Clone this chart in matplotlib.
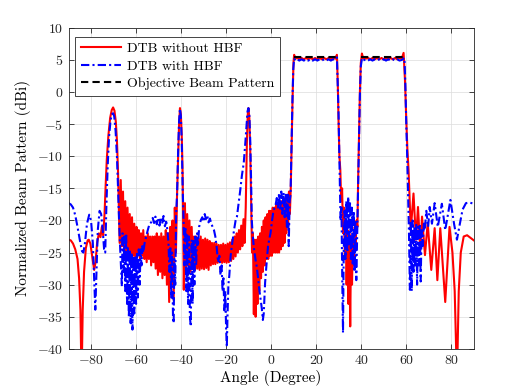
import numpy as np
import matplotlib
matplotlib.use("Agg")
import matplotlib.pyplot as plt

plt.rcParams['font.family'] = ['cmr10', 'DejaVu Serif']
plt.rcParams['mathtext.fontset'] = 'cm'
plt.rcParams['axes.unicode_minus'] = False
plt.rcParams['axes.formatter.use_mathtext'] = True

# ---------------- data ----------------
red_angle = [
    -90, -89, -88, -87, -86, -85.3, -84.7, -84.2, -83.7, -83.1, -82.3, -81.5, -81, -80.3, -79.5, -78.6,
    -78, -77.3, -76.5, -75.8, -75.2, -74.6, -74.0,
    -73.5, -73, -72.3, -71.5, -70.8, -70.2, -69.6, -69, -68.5, -68, -67.6, -67.3,
    -66.8, -66.3, -65.8, -65.3, -64.8, -64.3, -63.8, -63.3, -62.8, -62.3, -61.8, -61.3, -60.8, -60.3,
    -59.8, -59.3, -58.8, -58.3, -57.8, -57.3, -56.8, -56.3, -55.8, -55.3, -54.8, -54.3, -53.8, -53.3,
    -52.8, -52.3, -51.8, -51.3, -50.8, -50.3, -49.8, -49.3, -48.8, -48.3, -47.8, -47.3, -46.8, -46.3,
    -45.8, -45.3, -44.8, -44.3, -43.8, -43.3, -42.8, -42.3, -41.8,
    -41.3, -40.9, -40.5, -40.1, -39.7, -39.3, -38.8,
    -38.3, -37.8, -37.3, -36.8, -36.3, -35.8, -35.3, -34.8, -34.3, -33.8, -33.3, -32.8, -32.3, -31.8,
    -31.3, -30.8, -30.3, -29.8, -29.3, -28.8, -28.3, -27.8, -27.3, -26.8, -26.3, -25.8, -25.3, -24.8,
    -24.3, -23.8, -23.3, -22.8, -22.3, -21.8, -21.3, -20.8, -20.3, -19.8, -19.3, -18.8, -18.3, -17.8,
    -17.3, -16.8, -16.3, -15.8, -15.3, -14.8, -14.3, -13.8, -13.3, -12.8, -12.3, -11.8, -11.3,
    -10.8, -10.4, -10.1, -9.7, -9.3, -8.9, -8.5,
    -8.1, -7.7, -7.3, -6.9, -6.5, -6.1, -5.7, -5.3, -4.9, -4.5, -4.1, -3.7, -3.3, -2.9, -2.5, -2.1,
    -1.7, -1.3, -0.9, -0.5, -0.1, 0.3, 0.7, 1.1, 1.5, 1.9, 2.3, 2.7, 3.1, 3.5, 3.9, 4.3, 4.7, 5.1,
    5.5, 5.9, 6.3, 6.7, 7.1, 7.5, 7.9, 8.3, 8.7, 9.1, 9.5, 9.9,
    10.2, 10.7, 11.5, 12.5, 13.5, 14.5, 15.5, 16.5, 17.5, 18.5, 19.5, 20.5, 21.5, 22.5, 23.5, 24.5,
    25.5, 26.5, 27.5, 28.5, 29.2, 29.6, 29.9, 30.3,
    30.7, 31.1, 31.5, 31.9, 32.3, 32.7, 33.1, 33.5, 33.9, 34.3, 34.7, 35.1, 35.5, 35.9, 36.3, 36.7,
    37.1, 37.5, 37.9, 38.3, 38.6, 39.0, 39.4, 39.8,
    40.3, 40.8, 42, 43, 44, 45, 46, 47, 48, 49, 50, 51, 52, 53, 54, 55, 56, 57, 58, 58.8,
    59.4, 60.0, 60.5, 61.0, 62.0, 63.2, 64.3, 65.2, 66.2, 67.0, 68.3, 69.5, 71.1, 72.6, 73.8, 75.1,
    77.3, 79.2, 80.5, 81.5, 82.5, 83.3, 84.2, 85.5, 87, 88.5, 90,
]
red_db = [
    -23.0, -23.1, -23.6, -24.5, -26.0, -29.0, -34.0, -45.0, -34.0, -28.0, -24.3, -23.1, -23.0, -23.6, -25.5, -27.7,
    -26.5, -23.5, -22.0, -22.6, -21.0, -22.3, -19.0,
    -14.5, -10.5, -6.8, -4.0, -2.8, -2.4, -2.9, -4.6, -7.5, -12.5, -19.0, -23.5,
    -13.7, -24.0, -15.5, -25.0, -17.0, -25.5, -18.0, -25.0, -19.0, -26.0, -19.5, -25.5, -20.5, -26.0,
    -21.0, -25.0, -21.5, -26.0, -22.0, -25.5, -21.5, -26.0, -22.5, -26.5, -22.0, -26.0, -22.5, -27.0,
    -22.5, -26.5, -22.5, -27.5, -22.0, -28.5, -22.5, -28.0, -22.0, -29.0, -22.5, -28.5, -21.5, -30.0,
    -22.0, -32.7, -21.0, -30.0, -20.0, -32.4, -18.0, -25.0, -16.0,
    -10.0, -5.0, -2.5, -3.5, -7.0, -13.0, -30.8,
    -17.3, -28.0, -19.0, -27.0, -20.0, -28.0, -21.0, -27.5, -22.5, -27.7, -22.5, -27.5, -22.8, -27.7,
    -22.5, -27.5, -23.0, -27.6, -22.8, -27.4, -23.0, -27.7, -23.2, -27.0, -23.5, -26.8, -23.5, -26.8,
    -23.6, -26.6, -23.8, -26.5, -23.8, -26.6, -23.6, -26.5, -23.8, -26.6, -23.6, -26.5, -23.4, -26.3,
    -23.0, -26.0, -22.5, -25.6, -22.0, -25.0, -21.5, -24.5, -20.8, -24.0, -19.8, -23.5, -18.0,
    -8.0, -3.5, -2.5, -4.0, -9.0, -17.0, -25.0,
    -22.0, -34.6, -23.0, -35.0, -23.0, -33.0, -22.5, -31.0, -22.0, -29.0, -21.0, -28.0, -20.0, -27.0, -19.5, -26.0,
    -19.0, -26.0, -18.5, -25.5, -18.5, -25.5, -18.0, -25.0, -18.0, -25.0, -17.5, -25.0, -17.5, -25.0, -17.0, -24.5, -17.0, -24.0,
    -16.5, -23.5, -16.5, -22.0, -16.0, -21.0, -15.5, -19.0, -15.0, -8.0, -1.0, 4.5,
    5.8, 5.2, 5.3, 5.1, 5.3, 5.1, 5.3, 5.1, 5.3, 5.1, 5.3, 5.1, 5.3, 5.1, 5.3, 5.1,
    5.3, 5.1, 5.3, 5.2, 5.8, 1.0, -4.3, -10.0,
    -12.1, -17.0, -15.0, -22.0, -18.0, -26.0, -20.5, -30.0, -21.5, -33.0, -22.0, -36.5, -22.5, -30.0, -22.0, -27.0,
    -21.0, -24.0, -20.0, -21.0, -14.0, -7.0, 0.0, 4.5,
    6.0, 5.3, 5.2, 5.3, 5.1, 5.3, 5.1, 5.3, 5.1, 5.3, 5.1, 5.3, 5.1, 5.3, 5.1, 5.3, 5.1, 5.3, 5.2, 6.1,
    2.0, -4.3, -9.0, -12.1, -21.5, -15.8, -23.0, -17.9, -24.6, -19.4, -25.4, -20.4, -27.7, -21.2, -29.3, -21.2,
    -32.7, -21.0, -25.0, -31.0, -45.0, -31.0, -25.0, -22.5, -22.3, -22.7, -23.1,
]

blue_angle = [
    -90, -89, -88, -87, -86, -85, -84, -83.4, -82.7, -81.8, -80.8, -80, -79.2, -78.6, -78.1, -77.6,
    -77, -76.2, -75.5, -74.8, -74.2, -73.7,
    -73.2, -72.6, -72, -71.3, -70.6, -70.2, -69.7, -69.1, -68.5, -68, -67.6, -67.1, -66.6, -66.3,
    -66.0, -65.6, -65.2, -64.8, -64.4, -64.0, -63.6, -63.2, -62.8, -62.4, -62.0, -61.6, -61.2, -60.8,
    -60.4, -60.0, -59.6, -59.2, -58.8, -58.4, -58.0, -57.6, -57.2, -56.8, -56.2, -55.5, -54.8, -54.0,
    -53.3, -52.6, -52.0, -51.4, -50.8, -50.2, -49.6, -49.0, -48.4, -47.8, -47.2, -46.6, -46.1, -45.6,
    -45.2, -44.8, -44.4, -44.0, -43.6, -43.3, -43.0, -42.6, -42.2, -41.8,
    -41.3, -40.9, -40.5, -40.1, -39.7, -39.3, -38.9,
    -38.5, -38.1, -37.7, -37.3, -36.9, -36.5, -36.1, -35.7, -35.3, -34.9, -34.5, -34.1, -33.7, -33.3,
    -32.9, -32.5, -32.0, -31.3, -30.6, -30.0, -29.5, -29.0, -28.4, -27.8, -27.2, -26.6, -26.0, -25.4,
    -24.8, -24.2, -23.6, -23.0, -22.5, -22.0, -21.6, -21.2, -20.8, -20.4, -20.0, -19.7, -19.4, -19.0,
    -18.6, -18.0, -17.4, -16.5, -15.8, -15.2, -14.5, -13.7, -13.0, -12.2, -11.5,
    -10.9, -10.5, -10.1, -9.7, -9.3, -8.9, -8.6,
    -8.2, -7.6, -7.0, -6.4, -5.8, -5.2, -4.6, -4.1, -3.7, -3.3, -2.7, -2.0, -1.4, -0.8, -0.3, 0.4,
    1.0, 2.0, 2.5, 3.0, 3.5, 4.0, 4.5, 5.0, 5.5, 6.0, 6.5, 7.0, 7.4, 7.8, 8.2, 8.6,
    9.0, 9.4, 9.8,
    10.2, 10.8, 11.5, 12.5, 13.5, 14.5, 15.5, 16.5, 17.5, 18.5, 19.5, 20.5, 21.5, 22.5, 23.5, 24.5,
    25.5, 26.5, 27.5, 28.5, 29.2, 29.6, 29.9, 30.4,
    30.8, 31.2, 31.6, 31.9, 32.2, 32.6, 33.0, 33.4, 33.8, 34.2, 34.6, 35.0, 35.4, 35.8, 36.2, 36.6,
    37.0, 37.4, 37.8, 38.2, 38.6, 39.0, 39.4, 39.8,
    40.3, 40.8, 42, 43, 44, 45, 46, 47, 48, 49, 50, 51, 52, 53, 54, 55, 56, 57, 58, 59.2,
    59.6, 60.0, 60.4, 60.8, 61.2, 61.6, 62.0, 62.4, 62.8, 63.2, 63.6, 64.0, 64.4, 64.8, 65.2, 65.6,
    66.0, 66.4, 66.8, 67.3, 67.8, 68.2, 68.9, 69.7, 70.4, 71.4, 72.6, 74.0, 75.8, 77.3, 79.6, 81.2,
    82.5, 83.8, 85.0, 86.5, 88.0, 90,
]
blue_db = [
    -17.3, -17.5, -18.0, -19.2, -21.0, -23.0, -24.8, -25.0, -23.5, -20.5, -19.1, -20.0, -23.5, -29.0, -33.9, -28.0,
    -21.5, -18.5, -19.0, -21.5, -24.5, -25.0,
    -18.0, -11.5, -7.0, -4.3, -3.4, -3.3, -3.8, -6.0, -10.0, -15.0, -19.5, -24.0, -28.0, -30.3,
    -22.0, -28.0, -22.5, -31.0, -22.0, -33.0, -24.0, -35.0, -24.5, -36.0, -25.0, -37.0, -25.5, -34.5,
    -25.5, -33.0, -25.0, -32.0, -24.5, -30.0, -24.5, -27.0, -24.0, -25.0, -23.5, -22.5, -21.5, -20.5,
    -20.3, -19.6, -20.4, -19.4, -20.6, -19.6, -20.8, -19.5, -20.5, -19.3, -20.9, -20.2, -21.5, -23.5,
    -28.0, -24.0, -32.0, -25.0, -35.0, -36.0, -26.0, -30.0, -19.0, -16.0,
    -9.0, -4.5, -2.6, -3.8, -8.0, -15.0, -20.0,
    -27.0, -21.0, -31.0, -22.0, -33.0, -22.5, -35.0, -36.5, -23.0, -33.0, -23.0, -30.0, -22.5, -27.0,
    -22.0, -24.0, -21.0, -20.0, -19.5, -20.2, -19.0, -19.8, -19.2, -20.3, -19.7, -20.5, -21.0, -21.5,
    -22.5, -24.2, -26.5, -25.5, -28.5, -27.0, -31.0, -29.0, -34.0, -31.0, -37.0, -39.7, -35.0, -30.0,
    -28.6, -25.5, -23.8, -21.5, -20.0, -19.4, -17.5, -15.2, -13.0, -11.1, -8.0,
    -5.0, -3.0, -2.5, -3.5, -7.5, -14.0, -20.0,
    -22.3, -24.5, -26.0, -27.2, -29.0, -31.0, -32.5, -33.9, -35.5, -34.5, -29.7, -26.5, -24.0, -22.8, -22.0, -20.0,
    -18.5, -17.5, -16.5, -18.0, -15.8, -18.5, -15.5, -19.0, -15.7, -19.5, -16.0, -21.0, -16.0, -24.0, -17.0, -16.0,
    -9.0, -2.0, 3.5,
    5.2, 4.9, 5.1, 4.9, 5.1, 4.9, 5.1, 4.9, 5.1, 4.9, 5.1, 4.9, 5.1, 4.9, 5.1, 4.9,
    5.1, 4.9, 5.1, 5.0, 5.4, 0.5, -3.0, -12.0,
    -20.0, -18.0, -30.0, -37.5, -25.0, -18.5, -26.0, -17.0, -25.0, -16.3, -24.0, -17.0, -26.0, -18.0, -27.0, -18.5,
    -28.0, -20.0, -29.3, -22.0, -15.0, -7.0, -0.5, 4.0,
    5.2, 4.9, 5.1, 4.9, 5.1, 4.9, 5.1, 4.9, 5.1, 4.9, 5.1, 4.9, 5.1, 4.9, 5.1, 4.9, 5.1, 4.9, 5.0, 5.3,
    1.0, -5.0, -10.0, -16.0, -22.0, -30.8, -20.0, -31.0, -20.0, -28.0, -21.0, -27.0, -20.5, -30.0, -21.0, -27.0,
    -20.5, -29.5, -21.5, -24.0, -20.5, -21.5, -18.5, -21.0, -17.9, -20.5, -17.3, -21.0, -17.4, -21.5, -16.8, -20.5,
    -23.0, -20.5, -18.3, -17.3, -17.2, -17.4,
]

obj_angle = [10, 30, np.nan, 40, 60]
obj_db = [5.5, 5.5, np.nan, 5.5, 5.5]

labels = ['DTB without HBF', 'DTB with HBF', 'Objective Beam Pattern']
x_ticks = [-80, -60, -40, -20, 0, 20, 40, 60, 80]
y_ticks = [-40, -35, -30, -25, -20, -15, -10, -5, 0, 5, 10]

# ---------------- figure ----------------
fig = plt.figure(figsize=(5.23, 3.92), dpi=100)
ax = fig.add_axes([0.131, 0.110, 0.775, 0.819])

ax.plot(red_angle, red_db, color='#ff0000', lw=1.5, ls='-', label=labels[0])
ax.plot(blue_angle, blue_db, color='#0000ff', lw=1.5, ls=(0, (4, 1.5, 1, 1.5)), label=labels[1])
ax.plot(obj_angle, obj_db, color='black', lw=1.5, ls=(0, (3.5, 2)), label=labels[2])

ax.set_xlim(-90, 90)
ax.set_ylim(-40, 10)
ax.set_xticks(x_ticks)
ax.set_yticks(y_ticks)
ax.tick_params(direction='in', top=True, right=True, length=3.5, width=0.6,
               labelsize=10, colors='#262626', pad=4)
for sp in ax.spines.values():
    sp.set_color('#262626')
    sp.set_linewidth(0.6)
ax.grid(True, color='#dcdcdc', lw=0.5)
ax.set_axisbelow(True)

ax.set_xlabel('Angle (Degree)', fontsize=11, labelpad=2)
ax.set_ylabel('Normalized Beam Pattern (dBi)', fontsize=11, labelpad=4)

leg = ax.legend(loc='upper left', bbox_to_anchor=(0.016, 0.972), fontsize=10,
                frameon=True, fancybox=False, framealpha=1, edgecolor='#262626',
                handlelength=2.9, handletextpad=0.45, borderpad=0.4, labelspacing=0.35,
                borderaxespad=0.0)
leg.get_frame().set_linewidth(0.6)

fig.savefig('out.png', dpi=100)
